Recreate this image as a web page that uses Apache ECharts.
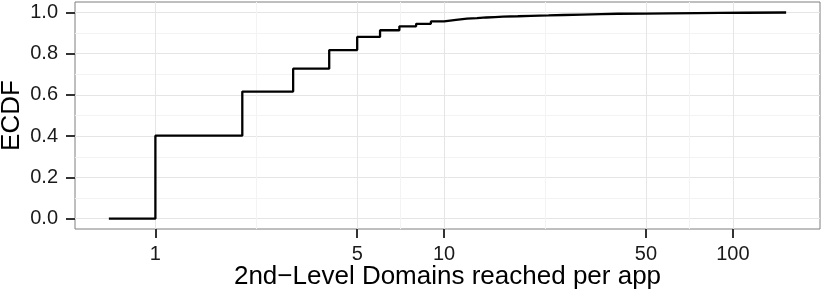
<!DOCTYPE html>
<html>
<head>
<meta charset="utf-8">
<script src="https://cdn.jsdelivr.net/npm/echarts@6/dist/echarts.min.js"></script>
<style>
html,body{margin:0;padding:0;background:#fff;}
#chart{width:822px;height:296px;}
</style>
</head>
<body>
<div id="chart"></div>
<script>
// Data: number of 2nd-level domains per app (x) and ECDF value (y)
var domains = [0.69, 1, 2, 3, 4, 5, 6, 7, 8, 9, 10, 11, 12, 13, 14, 15, 16, 18, 20, 23, 26, 30, 35, 40, 50, 60, 75, 90, 110, 153];
var ecdf    = [0, 0.402, 0.616, 0.727, 0.817, 0.881, 0.913, 0.932, 0.944, 0.956, 0.963, 0.969, 0.972, 0.975, 0.977, 0.979, 0.981, 0.983, 0.985, 0.987, 0.989, 0.991, 0.993, 0.994, 0.995, 0.996, 0.997, 0.998, 0.999, 1.0];

var xTickLabels = [1, 5, 10, 50, 100];
var xMinorBreaks = [Math.sqrt(5), Math.sqrt(50), Math.sqrt(500), Math.sqrt(5000)];
var yTicks = [0, 0.2, 0.4, 0.6, 0.8, 1.0];
var yMinor = [0.1, 0.3, 0.5, 0.7, 0.9];

var lg = function (v) { return Math.log10(v); };
var lx = domains.map(lg);
var xLo = Math.min.apply(null, lx), xHi = Math.max.apply(null, lx);
var xPad = (xHi - xLo) * 0.05;
var xMin = xLo - xPad, xMax = xHi + xPad;
var yMin = -0.05, yMax = 1.05;

var FONT = 'Liberation Sans, Arial, Helvetica, sans-serif';
var chart = echarts.init(document.getElementById('chart'), null, {renderer: 'canvas'});

var option = {
  animation: false,
  backgroundColor: '#ffffff',
  grid: {
    left: 75, right: 2, top: 2, bottom: 67,
    show: true, borderColor: '#7f7f7f', borderWidth: 1, backgroundColor: 'transparent',
    containLabel: false, outerBoundsMode: 'none'
  },
  xAxis: [{
    type: 'value', min: xMin, max: xMax, position: 'bottom',
    name: '2nd\u2212Level Domains reached per app',
    nameLocation: 'middle', nameGap: 35, nameMoveOverlap: false,
    nameTextStyle: {fontFamily: FONT, fontSize: 26, color: '#000'},
    axisLine: {show: false, onZero: false},
    axisTick: {show: true, inside: false, length: 9, lineStyle: {color: '#333', width: 2}, customValues: xTickLabels.map(lg)},
    axisLabel: {show: true, margin: 15, fontFamily: FONT, fontSize: 20, color: '#1a1a1a',
      customValues: xTickLabels.map(lg),
      formatter: function (v) { return String(Math.round(Math.pow(10, v))); }},
    splitLine: {show: true, lineStyle: {color: '#e5e5e5', width: 1}}
  }, {
    type: 'value', min: xMin, max: xMax, position: 'bottom',
    axisLine: {show: false, onZero: false}, axisLabel: {show: false},
    axisTick: {show: false, customValues: xMinorBreaks.map(lg)},
    splitLine: {show: true, lineStyle: {color: '#f3f3f3', width: 1}}
  }],
  yAxis: [{
    type: 'value', min: yMin, max: yMax, position: 'left',
    name: 'ECDF', nameLocation: 'middle', nameGap: 50, nameRotate: 90, nameMoveOverlap: false,
    nameTextStyle: {fontFamily: FONT, fontSize: 26, color: '#000'},
    axisLine: {show: false, onZero: false},
    axisTick: {show: true, inside: false, length: 9, lineStyle: {color: '#333', width: 2}, customValues: yTicks},
    axisLabel: {show: true, margin: 17, fontFamily: FONT, fontSize: 20, color: '#1a1a1a',
      customValues: yTicks,
      formatter: function (v) { return v.toFixed(1); }},
    splitLine: {show: true, lineStyle: {color: '#e5e5e5', width: 1}}
  }, {
    type: 'value', min: yMin, max: yMax, position: 'left',
    axisLine: {show: false, onZero: false}, axisLabel: {show: false},
    axisTick: {show: false, customValues: yMinor},
    splitLine: {show: true, lineStyle: {color: '#f3f3f3', width: 1}}
  }],
  series: [{
    type: 'line', xAxisIndex: 0, yAxisIndex: 0,
    step: 'end', showSymbol: false, symbol: 'none',
    lineStyle: {color: '#000', width: 2.3},
    data: domains.map(function (d, i) { return [lg(d), ecdf[i]]; }),
    z: 5
  }]
};
chart.setOption(option);
</script>
</body>
</html>
